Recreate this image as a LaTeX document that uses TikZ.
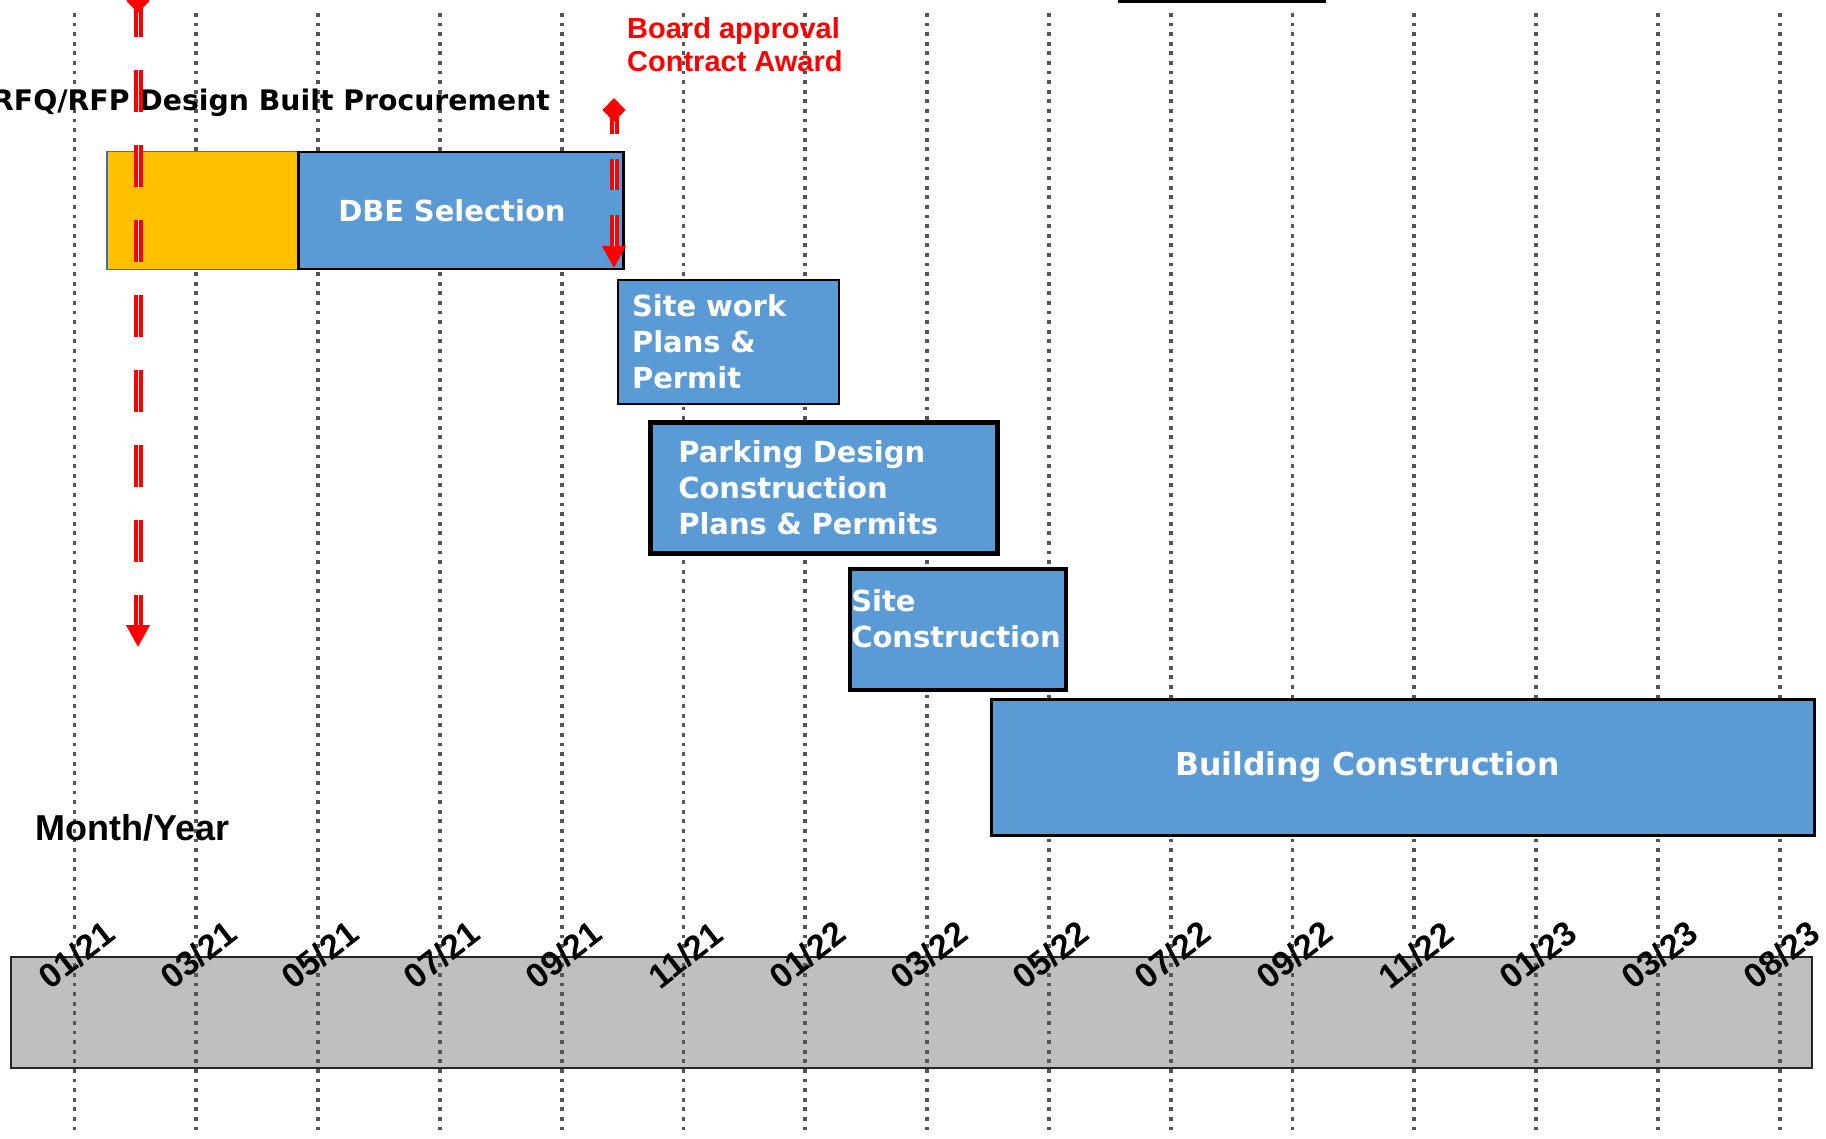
\documentclass[tikz,border=0pt]{standalone}
\usepackage{fontspec}
\setmainfont{DejaVu Sans}
\newfontfamily\arialfont{Liberation Sans}
\usetikzlibrary{arrows.meta}

\definecolor{barblue}{HTML}{5B9BD5}
\definecolor{barorange}{HTML}{FFC000}
\definecolor{orangeedge}{HTML}{41719C}
\definecolor{gridgray}{HTML}{555555}
\definecolor{bandgray}{HTML}{BFBFBF}
\definecolor{bandedge}{HTML}{262626}

\newcommand{\scale}{1}
\newcommand{\boxfont}{\fontsize{29}{36}\selectfont\bfseries}
\newcommand{\datefont}{\arialfont\fontsize{34}{34}\selectfont\bfseries}

\tikzset{
  bar/.style = {rectangle, fill = barblue, draw = black, line width = 2.5pt, anchor = north west, inner sep = 0pt, text = white, font = \boxfont, align = left},
  grid line/.style = {gridgray, line width = 3.8pt, dash pattern = on 3.8pt off 5.8pt},
  milestone/.style = {draw = red, double = white, double distance = 1pt, line width = 4pt},
  datelabel/.style = {font = \datefont, rotate = 38, inner sep = 0pt}
}

\begin{document}
\begin{tikzpicture}[scale = \scale, x = 1pt, y = -1pt]
\useasboundingbox (0,0) rectangle (1826,1139);

\draw [line width = 2pt, draw = bandedge, fill = bandgray] (11,957) rectangle (1812,1068);
\draw [line width = 2.5pt] (1118,1.5) -- (1326,1.5);

\foreach \i in {0,...,14}
  \draw [grid line] ({74.5+121.8*\i},13) -- ({74.5+121.8*\i},1132);

\node [bar, fill = barorange, draw = orangeedge, line width = 1.5pt, minimum width = 191pt, minimum height = 118pt] (b1) at (106,151) {};
\node [bar, minimum width = 325pt, minimum height = 117pt, text width = 245pt] (b2) at (297,151) {DBE Selection};
\node [bar, line width = 2pt, minimum width = 221pt, minimum height = 124pt, text width = 193pt] (b3) at (617,279) {Site work\\Plans \&\\Permit};
\node [bar, line width = 4.5pt, minimum width = 347pt, minimum height = 131pt, text width = 291pt] (b4) at (648,420) {Parking Design\\Construction\\Plans \& Permits};
\node [bar, line width = 3.5pt, minimum width = 216pt, minimum height = 121pt, text width = 213pt, text depth = 58pt] (b5) at (848,567) {Site\\Construction};
\node [bar, minimum width = 823pt, minimum height = 136pt, text width = 455pt, font = \fontsize{31.5}{36}\selectfont\bfseries] (b6) at (990,698) {Building Construction};

\node [font = \fontsize{28.3}{30}\selectfont\bfseries, anchor = base west, inner sep = 0pt] (t1) at (-8,111) {RFQ/RFP Design Built Procurement};
\node [font = \arialfont\fontsize{29}{33}\selectfont\bfseries, text = red, align = left, anchor = north west, inner sep = 0pt] (t2) at (627,17) {Board approval\\Contract Award};
\node [font = \arialfont\fontsize{36}{36}\selectfont\bfseries, anchor = base west, inner sep = 0pt] (t3) at (35,840) {Month/Year};

\coordinate (m1) at (138,-11);
\coordinate (m2) at (138,647);
\coordinate (m3) at (614,98);
\coordinate (m4) at (614,268);
\draw [milestone, dash pattern = on 42pt off 33pt, dash phase = 10pt, {Diamond[length = 24pt, width = 23pt]}-{Triangle[length = 22pt, width = 23pt]}] (m1) -- (m2);
\draw [milestone, dash pattern = on 31pt off 25pt, dash phase = 11pt, {Diamond[length = 24pt, width = 23pt]}-{Triangle[length = 22pt, width = 23pt]}] (m3) -- (m4);

\foreach \lbl [count = \i from 0] in {01/21,03/21,05/21,07/21,09/21,11/21,01/22,03/22,05/22,07/22,09/22,11/22,01/23,03/23,08/23}
  \node [datelabel] (d\i) at ({76.5+121.8*\i},955) {\lbl};
\end{tikzpicture}
\end{document}
